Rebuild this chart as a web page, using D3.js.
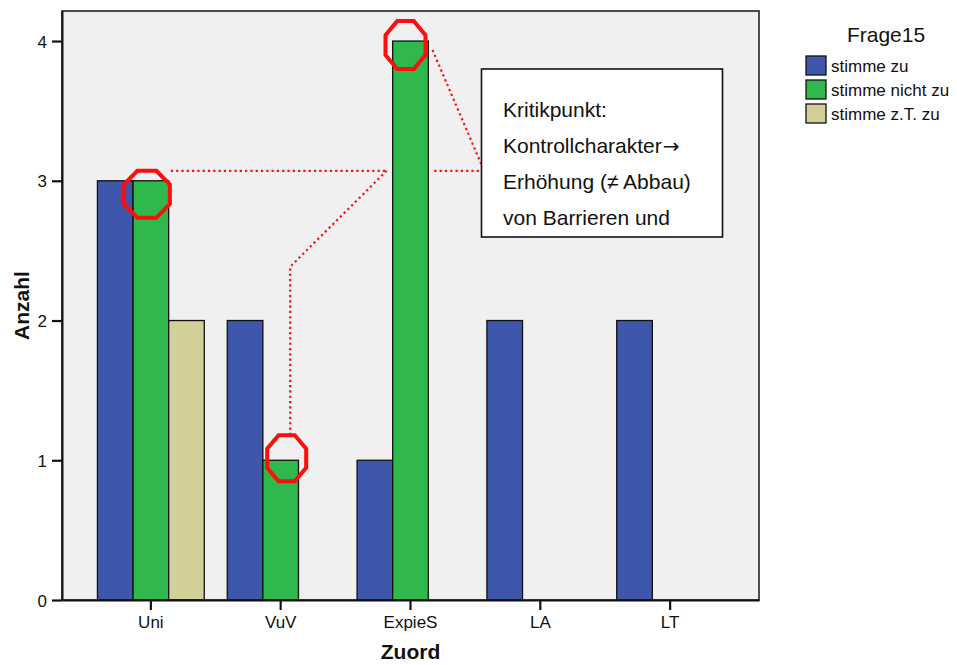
<!DOCTYPE html>
<html>
<head>
<meta charset="utf-8">
<script src="https://cdn.jsdelivr.net/npm/d3@7"></script>
<style>
  html, body { margin: 0; padding: 0; background: #ffffff; }
  svg { display: block; font-family: "Liberation Sans", Arial, sans-serif; }
</style>
</head>
<body>
<svg id="chart" width="957" height="665"></svg>
<script>
// ---- data ----
const categories = ["Uni", "VuV", "ExpieS", "LA", "LT"];
const seriesNames = ["stimme zu", "stimme nicht zu", "stimme z.T. zu"];
const stimmeZu = [3, 2, 1, 2, 2];
const stimmeNichtZu = [3, 1, 4, 0, 0];
const stimmeZTZu = [2, 0, 0, 0, 0];
const yTicks = [0, 1, 2, 3, 4];
const seriesColors = ["#3e57aa", "#2fb84b", "#d3cf98"];
const legendTitle = "Frage15";
const xTitle = "Zuord";
const yTitle = "Anzahl";
const noteLines = ["Kritikpunkt:", "Kontrollcharakter", "Erh\u00f6hung (\u2260 Abbau)", "von Barrieren und"];
const noteArrow = "\u2192";
// highlighted bars: [category, series]
const highlights = [["Uni", "stimme nicht zu"], ["VuV", "stimme nicht zu"], ["ExpieS", "stimme nicht zu"]];

const seriesValues = [stimmeZu, stimmeNichtZu, stimmeZTZu];
const rows = categories.map((c, i) => ({
  cat: c,
  vals: seriesNames.map((s, j) => ({ key: s, value: seriesValues[j][i] }))
}));

// ---- layout ----
const svg = d3.select("#chart");
const plot = { left: 62, right: 759, top: 11, bottom: 600 };

const x0 = d3.scaleBand().domain(categories).range([plot.left, plot.right])
  .paddingInner(0.177).paddingOuter(0.273);
const x1 = d3.scaleBand().domain(seriesNames).range([0, x0.bandwidth()]);
const y = d3.scaleLinear().domain([0, 4.215]).range([plot.bottom, plot.top]);
const color = d3.scaleOrdinal().domain(seriesNames).range(seriesColors);

// background
svg.append("rect")
  .attr("x", plot.left).attr("y", plot.top)
  .attr("width", plot.right - plot.left).attr("height", plot.bottom - plot.top)
  .attr("fill", "#f0f0f0");

// bars
const g = svg.append("g");
g.selectAll("g.cat").data(rows).join("g")
  .attr("class", "cat")
  .attr("transform", d => `translate(${x0(d.cat)},0)`)
  .selectAll("rect").data(d => d.vals.filter(v => v.value > 0)).join("rect")
  .attr("x", d => x1(d.key))
  .attr("y", d => y(d.value))
  .attr("width", x1.bandwidth())
  .attr("height", d => y(0) - y(d.value))
  .attr("fill", d => color(d.key))
  .attr("stroke", "#111")
  .attr("stroke-width", 1.3);

// frame
svg.append("rect")
  .attr("x", plot.left).attr("y", plot.top)
  .attr("width", plot.right - plot.left).attr("height", plot.bottom - plot.top)
  .attr("fill", "none").attr("stroke", "#222").attr("stroke-width", 1.6);

// axes
const yAxis = svg.append("g")
  .attr("transform", `translate(${plot.left},0)`)
  .call(d3.axisLeft(y).tickValues(yTicks).tickFormat(d3.format("d"))
    .tickSize(10).tickSizeOuter(0).tickPadding(5));
const xAxis = svg.append("g")
  .attr("transform", `translate(0,${plot.bottom})`)
  .call(d3.axisBottom(x0).tickSize(10).tickSizeOuter(0).tickPadding(6));
[yAxis, xAxis].forEach(a => {
  a.select(".domain").attr("stroke", "#111").attr("stroke-width", 2);
  a.selectAll(".tick line").attr("stroke", "#111").attr("stroke-width", 2.2);
  a.selectAll(".tick text").attr("fill", "#111")
    .style("font-family", "'Liberation Sans', Arial, sans-serif").style("font-size", "17px");
});
xAxis.selectAll(".tick text").attr("dy", "0.72em");
yAxis.selectAll(".tick text").attr("dy", "0.36em");

// axis titles
svg.append("text")
  .attr("x", (plot.left + plot.right) / 2).attr("y", 659)
  .attr("text-anchor", "middle").attr("font-weight", "bold").attr("font-size", 21)
  .attr("fill", "#111").text(xTitle);
svg.append("text")
  .attr("transform", `translate(29,${(plot.top + plot.bottom) / 2}) rotate(-90)`)
  .attr("text-anchor", "middle").attr("font-weight", "bold").attr("font-size", 21)
  .attr("fill", "#111").text(yTitle);

// legend
const leg = svg.append("g");
leg.append("text").attr("x", 886).attr("y", 42).attr("text-anchor", "middle")
  .attr("font-size", 21).attr("fill", "#111").text(legendTitle);
const li = leg.selectAll("g.item").data(seriesNames).join("g")
  .attr("class", "item")
  .attr("transform", (d, i) => `translate(806,${56 + i * 24})`);
li.append("rect").attr("width", 20).attr("height", 19)
  .attr("fill", d => color(d)).attr("stroke", "#111").attr("stroke-width", 1.3);
li.append("text").attr("x", 25).attr("y", 15.5).attr("font-size", 17)
  .attr("fill", "#111").text(d => d);

// ---- annotation ----
const red = "#ff0d0d";
function barTop(cat, s, v) {
  return [x0(cat) + x1(s) + x1.bandwidth() / 2, y(v)];
}
function octagon(cx, cy, a, b) {
  const t = Math.tan(Math.PI / 8);
  const pts = [[-a * t, -b], [a * t, -b], [a, -b * t], [a, b * t], [a * t, b], [-a * t, b], [-a, b * t], [-a, -b * t]];
  return "M" + pts.map(p => [cx + p[0], cy + p[1]].join(",")).join("L") + "Z";
}
const offs = [[-4, 13.5, 23, 23.5], [6, -2, 19.5, 23], [-5, 4, 20, 24]];
const centers = highlights.map((h, i) => {
  const ci = categories.indexOf(h[0]);
  const si = seriesNames.indexOf(h[1]);
  const [bx, by] = barTop(h[0], h[1], seriesValues[si][ci]);
  return { cx: bx + offs[i][0], cy: by + offs[i][1], a: offs[i][2], b: offs[i][3] };
});

// dotted connector lines
const lineY = y(3) - 10;
const boxX = 481.5, boxY = 69, boxW = 241, boxH = 168;
const cUni = centers[0], cVuV = centers[1], cEx = centers[2];
const exBarL = x0("ExpieS") + x1("stimme nicht zu");
const exBarR = exBarL + x1.bandwidth();
const bendX = cVuV.cx + 3.5, bendY = lineY + 96;
const paths = [
  [[cUni.cx + cUni.a + 1, lineY], [exBarL - 6, lineY]],
  [[exBarR + 6, lineY], [boxX, lineY]],
  [[exBarL - 6, lineY], [bendX, bendY], [bendX, cVuV.cy - cVuV.b]],
  [[cEx.cx + cEx.a + 7, cEx.cy + 5], [boxX, lineY - 6]]
];
svg.append("g").selectAll("path").data(paths).join("path")
  .attr("d", d => d3.line()(d))
  .attr("fill", "none").attr("stroke", red).attr("stroke-width", 2.2)
  .attr("stroke-dasharray", "2.2,3.1");

// octagons
svg.append("g").selectAll("path").data(centers).join("path")
  .attr("d", d => octagon(d.cx, d.cy, d.a, d.b))
  .attr("fill", "none").attr("stroke", red).attr("stroke-width", 4)
  .attr("stroke-linejoin", "miter");

// note box
svg.append("rect").attr("x", boxX).attr("y", boxY).attr("width", boxW).attr("height", boxH)
  .attr("fill", "#ffffff").attr("stroke", "#111").attr("stroke-width", 1.6);
const nt = svg.append("g").selectAll("text").data(noteLines).join("text")
  .attr("x", boxX + 21.5).attr("y", (d, i) => boxY + 48 + i * 36)
  .attr("font-size", 21).attr("fill", "#111").text(d => d);
nt.filter((d, i) => i === 1).append("tspan")
  .style("font-family", "'DejaVu Sans', sans-serif").attr("font-size", 20)
  .attr("dx", 1).text(noteArrow);
</script>
</body>
</html>
